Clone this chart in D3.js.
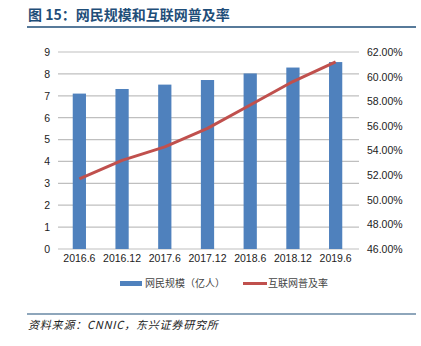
<!DOCTYPE html>
<html><head><meta charset="utf-8">
<script src="https://cdn.jsdelivr.net/npm/d3@7/dist/d3.min.js"></script>
<style>body{margin:0;background:#fff}svg{display:block}</style>
</head><body>
<svg id="c" width="421" height="346"></svg>
<script>
const categories = ["2016.6","2016.12","2017.6","2017.12","2018.6","2018.12","2019.6"];
const users = [7.10, 7.31, 7.51, 7.72, 8.02, 8.29, 8.54];
const penetration = [51.7, 53.2, 54.3, 55.8, 57.7, 59.6, 61.2];
const leftTicks = [0,1,2,3,4,5,6,7,8,9];
const rightTicks = [46,48,50,52,54,56,58,60,62];

const svg = d3.select("#c");
const font = "Liberation Sans, Arial, sans-serif";
const cjk = "Noto Sans CJK SC, sans-serif";

// title
svg.append("text").attr("x",28).attr("y",20).attr("font-family",cjk).attr("font-weight","bold")
  .attr("font-size",14).attr("fill","#1f4e79").text("图 15：网民规模和互联网普及率");
svg.append("line").attr("x1",27).attr("x2",416).attr("y1",27).attr("y2",27)
  .attr("stroke","#1f4e79").attr("stroke-width",1.5);

const x = d3.scaleBand().domain(categories).range([58,357]).padding(0);
const yL = d3.scaleLinear().domain([0,9]).range([249,52]);
const yR = d3.scaleLinear().domain([46,62]).range([249,52]);

// grid
svg.append("g").selectAll("line").data(leftTicks).join("line")
  .attr("x1",58).attr("x2",359).attr("y1",d=>yL(d)).attr("y2",d=>yL(d))
  .attr("stroke","#bfbfbf").attr("stroke-width",1.2);

// left axis labels
const axL = d3.axisLeft(yL).tickValues(leftTicks).tickSize(0).tickPadding(0).tickFormat(d3.format("d"));
const gL = svg.append("g").attr("transform","translate(50,0)").call(axL);
gL.select(".domain").remove();
gL.selectAll("text").attr("font-family",font).attr("font-size",10.5).attr("fill","#222");

const axR = d3.axisRight(yR).tickValues(rightTicks).tickSize(0).tickPadding(0).tickFormat(d=>d.toFixed(2)+"%");
const gR = svg.append("g").attr("transform","translate(367,0)").call(axR);
gR.select(".domain").remove();
gR.selectAll("text").attr("font-family",font).attr("font-size",10.5).attr("fill","#222");

// bars
const bw = x.bandwidth()*0.31;
svg.append("g").selectAll("rect").data(users).join("rect")
  .attr("x",(d,i)=>x(categories[i])+x.bandwidth()/2-bw/2)
  .attr("width",bw).attr("y",d=>yL(d)).attr("height",d=>yL(0)-yL(d))
  .attr("fill","#4f81bd");

// line
const line = d3.line().x((d,i)=>x(categories[i])+x.bandwidth()/2).y(d=>yR(d));
svg.append("path").datum(penetration).attr("d",line).attr("fill","none")
  .attr("stroke","#c0504d").attr("stroke-width",3).attr("stroke-linejoin","round");

// x axis labels
const axX = d3.axisBottom(x).tickSize(0).tickPadding(0);
const gX = svg.append("g").attr("transform","translate(0,255)").call(axX);
gX.select(".domain").remove();
gX.selectAll("text").attr("font-family",font).attr("font-size",10.5).attr("fill","#222");

// legend
svg.append("rect").attr("x",120).attr("y",281).attr("width",22).attr("height",5).attr("fill","#4f81bd");
svg.append("text").attr("x",145).attr("y",287).attr("font-family",cjk).attr("font-size",10).attr("fill","#444").text("网民规模（亿人）");
svg.append("line").attr("x1",243).attr("x2",267).attr("y1",283.5).attr("y2",283.5).attr("stroke","#c0504d").attr("stroke-width",3);
svg.append("text").attr("x",268).attr("y",287).attr("font-family",cjk).attr("font-size",10).attr("fill","#444").text("互联网普及率");

// footer
svg.append("line").attr("x1",27).attr("x2",416).attr("y1",314).attr("y2",314)
  .attr("stroke","#1f4e79").attr("stroke-width",1.2);
svg.append("text").attr("x",28).attr("y",329).attr("font-family",cjk).attr("font-size",11)
  .attr("font-style","italic").attr("fill","#222").attr("letter-spacing",0.8).text("资料来源：CNNIC，东兴证券研究所");
</script>
</body></html>
